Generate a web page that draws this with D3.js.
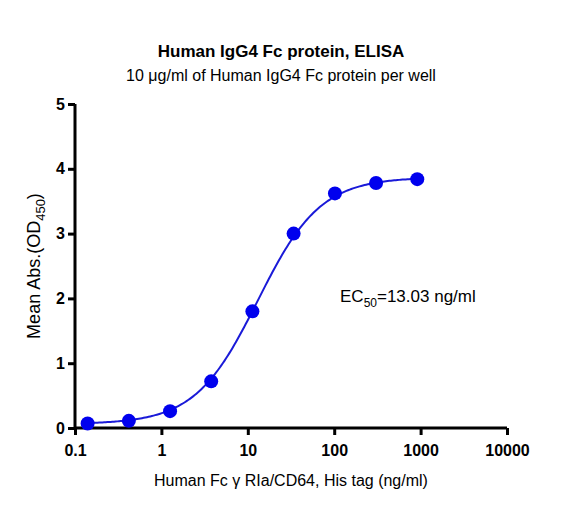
<!DOCTYPE html>
<html><head><meta charset="utf-8">
<script src="https://cdn.jsdelivr.net/npm/d3@7"></script>
<style>body{margin:0;background:#fff}text{font-family:"Liberation Sans",Arial,sans-serif}</style>
</head><body><svg width="562" height="506"></svg>
<script>
const conc = [0.14, 0.42, 1.26, 3.77, 11.3, 33.9, 102, 305, 915];
const od = [0.07, 0.11, 0.26, 0.72, 1.80, 3.00, 3.62, 3.78, 3.84];
const fit = {bottom: 0.06, top: 3.87, ec50: 13.03, hill: 1.2};
const xTicks = [0.1, 1, 10, 100, 1000, 10000];
const yTicks = [0, 1, 2, 3, 4, 5];

const svg = d3.select("svg");
const x = d3.scaleLog().domain([0.1, 10000]).range([75, 507]);
const y = d3.scaleLinear().domain([0, 5]).range([428, 104]);

svg.append("text").attr("x", 281).attr("y", 57).attr("text-anchor", "middle")
  .attr("font-size", 17).attr("font-weight", "bold").text("Human IgG4 Fc protein, ELISA");
svg.append("text").attr("x", 281).attr("y", 81).attr("text-anchor", "middle")
  .attr("font-size", 16).text("10 μg/ml of Human IgG4 Fc protein per well");

const xa = svg.append("g").attr("transform", "translate(0,428)")
  .call(d3.axisBottom(x).tickValues(xTicks).tickFormat(d3.format("~g")).tickSize(7));
const ya = svg.append("g").attr("transform", "translate(75,0)")
  .call(d3.axisLeft(y).tickValues(yTicks).tickFormat(d3.format("d")).tickSize(7));
[xa, ya].forEach(a => {
  a.selectAll("path,line").attr("stroke", "#000").attr("stroke-width", 3);
  a.select(".domain").attr("d", a === xa ? "M75,0H507" : "M0,104V428");
  a.selectAll("text").attr("font-size", 16).attr("font-weight", "bold").attr("fill", "#000");
});
xa.selectAll("text").attr("dy", "1.1em");

svg.append("text").attr("transform", "translate(40,266) rotate(-90)").attr("text-anchor", "middle")
  .attr("font-size", 18).html('Mean Abs.(OD<tspan font-size="13" dy="5">450</tspan><tspan dy="-5">)</tspan>');
svg.append("text").attr("x", 291).attr("y", 486).attr("text-anchor", "middle")
  .attr("font-size", 16).text("Human Fc γ RIa/CD64, His tag (ng/ml)");
svg.append("text").attr("x", 340).attr("y", 302).attr("font-size", 17)
  .html('EC<tspan font-size="12" dy="5">50</tspan><tspan dy="-5">=13.03 ng/ml</tspan>');

const curveX = d3.range(0, 201).map(i => Math.pow(10, Math.log10(0.14) + i / 200 * (Math.log10(915) - Math.log10(0.14))));
const f = c => fit.bottom + (fit.top - fit.bottom) / (1 + Math.pow(fit.ec50 / c, fit.hill));
svg.append("path").datum(curveX).attr("fill", "none").attr("stroke", "#1a1ad8").attr("stroke-width", 2)
  .attr("d", d3.line().x(d => x(d)).y(d => y(f(d))));
svg.selectAll("circle").data(conc).enter().append("circle")
  .attr("cx", d => x(d)).attr("cy", (d, i) => y(od[i])).attr("r", 7).attr("fill", "#0000ee");
</script></body></html>
